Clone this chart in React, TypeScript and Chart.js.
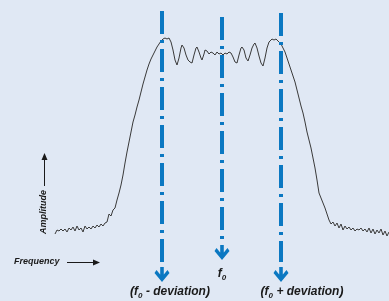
import React, { useEffect, useRef } from "react";
import { Chart, registerables } from "chart.js";
Chart.register(...registerables);

// Frequency in arbitrary bins (f0 = 222, deviation = 60 bins), amplitude in arbitrary units
const freq = [
  55, 57, 59, 61, 63, 65, 67, 69, 71, 73, 75, 77, 79, 81, 83, 85, 87, 89, 91, 93, 95, 97, 99, 101, 103, 105, 107,
  109, 111, 113, 115, 117, 119, 121, 123, 125, 127, 129, 131, 133, 135, 137, 139, 141, 143, 145, 147, 149, 151, 153,
  155, 157, 159, 161, 163, 165, 167, 169, 171, 173, 175, 177, 179, 181, 182, 184, 186, 188, 190, 192, 194, 196, 197,
  199, 201, 202, 204, 205, 207, 209, 211, 213, 215, 217, 219, 221, 223, 225, 227, 229, 231, 233, 235, 237, 239, 241,
  242, 244, 246, 248, 250, 252, 254, 255, 257, 259, 261, 263, 265, 267, 269, 271, 272, 274, 276, 277, 279, 281, 283,
  285, 287, 289, 291, 293, 295, 297, 299, 301, 303, 305, 307, 309, 311, 313, 315, 317, 319, 321, 323, 325, 327, 329,
  331, 333, 335, 337, 339, 341, 343, 345, 347, 349, 351, 353, 355, 357, 359, 361, 363, 365, 367, 369, 371, 373, 375,
  377, 379, 381, 383, 385, 387, 389,
];
const amplitude = [
  16, 20, 19, 21, 19, 21, 18, 22, 20, 23, 19, 24, 20, 22, 18, 24, 21, 23, 21, 24, 22, 25, 23, 26, 24, 27, 28,
  36, 34, 40, 42, 50, 57, 65, 75, 87, 98, 108, 118, 128, 135, 143, 150, 158, 166, 173, 180, 186, 191, 195,
  199, 203, 206, 209, 211, 212, 211, 212, 208, 200, 190, 185, 192, 202, 205, 202, 195, 190, 188, 187, 195, 202, 203,
  198, 192, 190, 196, 200, 199, 196, 198, 197, 195, 198, 196, 197, 195, 197, 196, 198, 197, 193, 188, 187, 195, 202,
  203, 200, 192, 189, 195, 202, 206, 207, 202, 194, 187, 184, 192, 202, 208, 210, 211, 210, 211, 210, 208, 206, 202,
  198, 192, 186, 180, 174, 168, 160, 152, 144, 137, 128, 118, 110, 102, 92, 82, 70, 57, 52, 47, 42, 36, 30,
  26, 28, 24, 27, 22, 26, 20, 24, 21, 23, 20, 22, 19, 21, 20, 22, 19, 21, 18, 22, 17, 21, 16,
  20, 17, 21, 15, 19, 14, 18,
];

// Marker lines: f0 - deviation, f0, f0 + deviation
const markerFreqs = [162, 222, 281];
const markerTop = [239, 233, 237];
const markerBottom = [-12, 7, -12];
const arrowTip = [-32, -10, -32];
const labelFreqs = [170, 222, 302];
const labelBaseline = [-45, -27, -45];
const labelPre = ["(f", "f", "(f"];
const labelSub = ["0", "0", "0"];
const labelPost = [" - deviation)", "", " + deviation)"];

const BG = "#e0e8f4";
const BLUE = "#0b78c2";
const FONT = "'Liberation Sans', Arial, sans-serif";

export default function App() {
  const ref = useRef<HTMLCanvasElement | null>(null);

  useEffect(() => {
    document.body.style.margin = "0";
    document.body.style.background = BG;
    const canvas = ref.current;
    if (!canvas) return;

    const overlay = {
      id: "overlay",
      beforeDraw(chart: any) {
        const ctx = chart.ctx;
        ctx.save();
        ctx.fillStyle = BG;
        ctx.fillRect(0, 0, chart.width, chart.height);
        ctx.restore();
      },
      afterDatasetsDraw(chart: any) {
        const ctx = chart.ctx;
        const xs = chart.scales.x;
        const ys = chart.scales.y;
        ctx.save();
        // chevron arrowheads
        ctx.fillStyle = BLUE;
        markerFreqs.forEach((f, i) => {
          const x = xs.getPixelForValue(f);
          const tip = ys.getPixelForValue(arrowTip[i]);
          ctx.beginPath();
          ctx.moveTo(x, tip);
          ctx.lineTo(x - 7.5, tip - 9);
          ctx.lineTo(x - 5.5, tip - 12);
          ctx.lineTo(x - 1.8, tip - 7.5);
          ctx.lineTo(x - 1.8, tip - 15);
          ctx.lineTo(x + 1.8, tip - 15);
          ctx.lineTo(x + 1.8, tip - 7.5);
          ctx.lineTo(x + 5.5, tip - 12);
          ctx.lineTo(x + 7.5, tip - 9);
          ctx.closePath();
          ctx.fill();
        });
        // marker labels with subscripts
        ctx.fillStyle = "#1a1a1a";
        ctx.textBaseline = "alphabetic";
        ctx.textAlign = "left";
        const big = `italic bold 12px ${FONT}`;
        const small = `italic bold 8px ${FONT}`;
        labelFreqs.forEach((f, i) => {
          const cx = xs.getPixelForValue(f);
          const by = ys.getPixelForValue(labelBaseline[i]);
          ctx.font = big;
          const w1 = ctx.measureText(labelPre[i]).width;
          const w3 = ctx.measureText(labelPost[i]).width;
          ctx.font = small;
          const w2 = ctx.measureText(labelSub[i]).width;
          let x = cx - (w1 + w2 + w3) / 2;
          ctx.font = big;
          ctx.fillText(labelPre[i], x, by);
          x += w1;
          ctx.font = small;
          ctx.fillText(labelSub[i], x, by + 3);
          x += w2;
          ctx.font = big;
          ctx.fillText(labelPost[i], x, by);
        });
        // axis hints
        ctx.fillStyle = "#1a1a1a";
        ctx.strokeStyle = "#1a1a1a";
        ctx.lineWidth = 1;
        ctx.font = `italic bold 9px ${FONT}`;
        ctx.textBaseline = "middle";
        ctx.textAlign = "left";
        ctx.fillText("Frequency", 14, 262);
        ctx.beginPath();
        ctx.moveTo(67, 262.5);
        ctx.lineTo(94, 262.5);
        ctx.stroke();
        ctx.beginPath();
        ctx.moveTo(100, 262.5);
        ctx.lineTo(93, 259.5);
        ctx.lineTo(93, 265.5);
        ctx.closePath();
        ctx.fill();

        ctx.save();
        ctx.translate(44, 212);
        ctx.rotate(-Math.PI / 2);
        ctx.textAlign = "center";
        ctx.fillText("Amplitude", 0, 0);
        ctx.restore();
        ctx.beginPath();
        ctx.moveTo(44.5, 186);
        ctx.lineTo(44.5, 159);
        ctx.stroke();
        ctx.beginPath();
        ctx.moveTo(44.5, 153);
        ctx.lineTo(41.5, 160);
        ctx.lineTo(47.5, 160);
        ctx.closePath();
        ctx.fill();
        ctx.restore();
      },
    };

    const markerSets = markerFreqs.map((f, i) => ({
      data: [
        { x: f, y: markerTop[i] },
        { x: f, y: markerBottom[i] },
      ],
      borderColor: BLUE,
      borderWidth: 4,
      borderDash: [23, 6, 3, 6],
      borderCapStyle: "butt",
      pointRadius: 0,
      fill: false,
    }));

    const chart = new Chart(canvas, {
      type: "line",
      data: {
        datasets: [
          ...markerSets,
          {
            data: freq.map((f, i) => ({ x: f, y: amplitude[i] })),
            borderColor: "#3a3a3a",
            borderWidth: 1,
            pointRadius: 0,
            tension: 0,
            fill: false,
          },
        ] as any,
      },
      options: {
        animation: false,
        responsive: false,
        maintainAspectRatio: false,
        devicePixelRatio: 1,
        layout: { padding: 0 },
        events: [],
        plugins: { legend: { display: false }, tooltip: { enabled: false } },
        scales: {
          x: { type: "linear", min: 0, max: 389, display: false },
          y: { type: "linear", min: -51, max: 250, display: false },
        },
      },
      plugins: [overlay],
    } as any);

    return () => chart.destroy();
  }, []);

  return (
    <div style={{ position: "fixed", left: 0, top: 0, width: 389, height: 301, background: BG }}>
      <canvas ref={ref} width={389} height={301} style={{ display: "block", width: 389, height: 301 }} />
    </div>
  );
}
